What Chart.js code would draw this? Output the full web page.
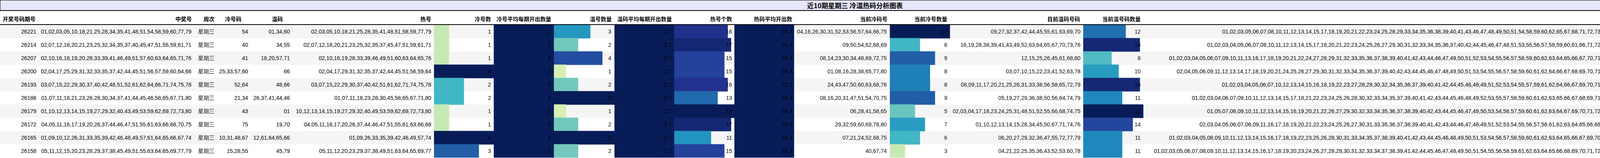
<!DOCTYPE html>
<html><head><meta charset="utf-8">
<script src="https://cdn.jsdelivr.net/npm/chart.js@4/dist/chart.umd.min.js"></script>
<style>
html,body{margin:0;padding:0;background:#fff;}
#wrap{position:relative;width:4377px;height:405px;overflow:hidden;font-family:"Liberation Sans",Arial,sans-serif;}
.t{position:absolute;white-space:nowrap;font-size:14px;color:#000;z-index:3;line-height:34px;height:34px;}
.h{position:absolute;white-space:nowrap;font-size:14px;font-weight:bold;font-family:"Noto Sans CJK SC","Liberation Sans",sans-serif;z-index:3;line-height:34px;top:31px;}
.stripe{position:absolute;left:0;width:4377px;height:34px;z-index:0;}
canvas{position:absolute;z-index:2;}
#title{position:absolute;left:0;top:0;width:4375px;height:25px;background:#e6e6fa;border:1px solid #000;border-bottom:2px solid #000;z-index:1;text-align:center;font:bold 17px "Noto Sans CJK SC",sans-serif;line-height:25px;}
#hline{position:absolute;left:0;top:62px;width:4377px;height:2px;background:#000;z-index:4;}
</style></head><body><div id="wrap"><div id="title">近10期星期三 冷温热码分析图表</div><div id="hline"></div></div>
<script>
const issues=["26221","26214","26207","26200","26193","26186","26179","26172","26165","26158"];
const winning=["01,02,03,05,10,18,21,25,28,34,35,41,48,51,54,58,59,60,77,79","02,07,12,18,20,21,23,25,32,34,35,37,40,45,47,51,55,59,61,71","02,10,16,18,19,20,28,33,39,41,46,49,51,57,60,63,64,65,71,76","02,04,17,25,29,31,32,33,35,37,42,44,45,51,56,57,59,60,64,66","03,07,15,22,29,30,37,40,42,48,51,52,61,62,64,66,71,74,75,78","01,07,11,18,21,23,26,28,30,34,37,41,44,45,46,58,65,67,71,80","01,10,12,13,14,15,19,27,29,32,40,43,49,53,59,62,69,72,73,80","04,05,11,16,17,19,20,26,37,44,46,47,51,55,61,63,66,68,70,75","01,09,10,12,26,31,33,35,39,42,46,48,49,57,61,64,65,66,67,74","05,11,12,15,20,23,28,29,37,38,45,49,51,55,63,64,65,69,77,79"];
const weekday=["星期三","星期三","星期三","星期三","星期三","星期三","星期三","星期三","星期三","星期三"];
const coldCodes=["54","40","41","25,33,57,60","52,64","21,34","43","75","10,31,48,67","15,28,55"];
const warmCodes=["01,34,60","34,55","18,20,57,71","66","48,66","26,37,41,44,46","01","19,70","12,61,64,65,66","45,79"];
const hotCodes=["02,03,05,10,18,21,25,28,35,41,48,51,58,59,77,79","02,07,12,18,20,21,23,25,32,35,37,45,47,51,59,61,71","02,10,16,19,28,33,39,46,49,51,60,63,64,65,76","02,04,17,29,31,32,35,37,42,44,45,51,56,59,64","03,07,15,22,29,30,37,40,42,51,61,62,71,74,75,78","01,07,11,18,23,28,30,45,58,65,67,71,80","10,12,13,14,15,19,27,29,32,40,49,53,59,62,69,72,73,80","04,05,11,16,17,20,26,37,44,46,47,51,55,61,63,66,68","01,09,26,33,35,39,42,46,49,57,74","05,11,12,20,23,29,37,38,49,51,63,64,65,69,77"];
const coldCount=[1,1,1,4,2,2,1,1,4,3];
const coldAvg=[2,2,2,2,2,2,2,2,2,2];
const warmCount=[3,2,4,1,2,5,1,2,5,2];
const warmAvg=[2.7,2.7,2.7,2.7,2.7,2.7,2.7,2.7,2.7,2.7];
const hotCount=[16,17,15,15,16,13,18,17,11,15];
const hotAvg=[15.3,15.3,15.3,15.3,15.3,15.3,15.3,15.3,15.3,15.3];
const curCold=["04,16,26,30,31,52,53,56,57,64,66,75","09,50,54,62,68,69","08,14,23,30,34,48,69,72,75","01,08,16,28,38,65,77,80","24,43,47,50,60,63,68,76","08,16,20,31,47,51,54,70,75","06,28,41,58,65","29,32,59,60,69,78,80","07,21,24,52,68,75","40,67,74"];
const curColdCount=[12,6,9,8,8,9,5,7,6,3];
const curWarm=["09,27,32,37,42,44,45,55,61,63,69,70","16,19,28,38,39,41,43,49,52,63,64,65,67,70,73,76","12,15,25,26,45,61,68,80","03,07,10,15,22,23,41,52,63,78","08,09,11,17,20,21,25,26,31,33,38,56,58,65,72,79","05,19,27,29,36,38,50,56,64,74,79","02,03,04,17,18,23,24,25,31,48,51,52,55,66,68,74,75","01,10,12,13,14,15,28,34,45,50,67,71,74,76","06,20,27,29,32,36,47,55,72,77,79","04,21,22,25,35,36,43,52,53,60,78"];
const curWarmCount=[12,16,8,10,16,11,17,14,11,11];
const curHot=["01,02,03,05,06,07,08,10,11,12,13,14,15,17,18,19,20,21,22,23,24,25,28,29,33,34,35,36,38,39,40,41,43,46,47,48,49,50,51,54,58,59,60,62,65,67,68,71,72,73,74,76,77,78,79,80","01,02,03,04,05,06,07,08,10,11,12,13,14,15,17,18,20,21,22,23,24,25,26,27,29,30,31,32,33,34,35,36,37,40,42,44,45,46,47,48,51,53,55,56,57,58,59,60,61,66,71,72,74,75,77,78,79,80","01,02,03,04,05,06,07,09,10,11,13,16,17,18,19,20,21,22,24,27,28,29,31,32,33,35,36,37,38,39,40,41,42,43,44,46,47,49,50,51,52,53,54,55,56,57,58,59,60,62,63,64,65,66,67,70,71,73,74,76,77,78,79","02,04,05,06,09,11,12,13,14,17,18,19,20,21,24,25,26,27,29,30,31,32,33,34,35,36,37,39,40,42,43,44,45,46,47,48,49,50,51,53,54,55,56,57,58,59,60,61,62,64,66,67,68,69,70,71,72,73,74,75,76,79","01,02,03,04,05,06,07,10,12,13,14,15,16,18,19,22,23,27,28,29,30,32,34,35,36,37,39,40,41,42,44,45,46,48,49,51,52,53,54,55,57,59,61,62,64,66,67,69,70,71,73,74,75,77,78,80","01,02,03,04,06,07,09,10,11,12,13,14,15,17,18,21,22,23,24,25,26,28,30,32,33,34,35,37,39,40,41,42,43,44,45,46,48,49,52,53,55,57,58,59,60,61,62,63,65,66,67,68,69,71,72,73,76,77,78,80","01,05,07,08,09,10,11,12,13,14,15,16,19,20,21,22,26,27,29,30,32,33,34,35,36,37,38,39,40,42,43,44,45,46,47,49,50,53,54,56,57,59,60,61,62,63,64,67,69,70,71,72,73,76,77,78,79,80","02,03,04,05,06,07,08,09,11,16,17,18,19,20,21,22,23,24,25,26,27,30,31,33,35,36,37,38,39,40,41,42,43,44,46,47,48,49,51,52,53,54,55,56,57,58,61,62,63,64,65,66,68,70,72,73,75,77,79","01,02,03,04,05,08,09,10,11,12,13,14,15,16,17,18,19,22,23,25,26,28,30,31,33,34,35,37,38,39,40,41,42,43,44,45,46,48,49,50,51,53,54,56,57,58,59,60,61,62,63,64,65,66,67,69,70,71,73,74,76,78,80","01,02,03,05,06,07,08,09,10,11,12,13,14,15,16,17,18,19,20,23,24,26,27,28,29,30,31,32,33,34,37,38,39,41,42,44,45,46,47,48,49,50,51,54,55,56,58,59,61,62,63,64,65,66,68,69,70,71,72,73,75,76,77,79,80"];
const curHotCount=[56,58,63,62,56,60,58,59,63,66];
const headers=["开奖号码期号","中奖号","周次","冷号码","温码","热号","冷号数","冷号平均每期开出数量","温号数量","温码平均每期开出数量","热号个数","热码平均开出数","当前冷码号","当前冷号数量","目前温码号码","当前温号码数量","目前热码","目前热号个数"];

// layout (not data)
const cols=[
 {d:issues,hl:7,r:93},
 {d:winning,hr:491,r:490},
 {d:weekday,hr:549,r:549},
 {d:coldCodes,hr:618,r:635},
 {d:warmCodes,hr:724,r:742},
 {d:hotCodes,hr:1104,r:1104},
 {d:coldCount,hr:1257,r:1257,bar:[1111,1264]},
 {d:coldAvg,hr:1411,r:1410,bar:[1264,1418]},
 {d:warmCount,hr:1566,r:1565,bar:[1418,1573]},
 {d:warmAvg,hr:1720,r:1719,bar:[1573,1726]},
 {d:hotCount,hr:1874,r:1874,bar:[1726,1880]},
 {d:hotAvg,hr:2028,r:2028,bar:[1880,2033]},
 {d:curCold,hr:2272,r:2270},
 {d:curColdCount,hr:2425,r:2425,bar:[2278,2432]},
 {d:curWarm,hr:2765,r:2766},
 {d:curWarmCount,hr:2920,r:2920,bar:[2773,2927]},
 {d:curHot,hr:4214,r:4214},
 {d:curHotCount,hr:4370,r:4370,bar:[4222,4377]}
];
const TOP=64,RH=34,W=4377;
const wrap=document.getElementById('wrap');
for(let i=0;i<10;i++){const s=document.createElement('div');s.className='stripe';s.style.top=(TOP+i*RH)+'px';s.style.background=i%2===0?'#f5f5f5':'#fff';wrap.appendChild(s);}
const stops=["#ffffd9","#edf8b1","#c7e9b4","#7fcdbb","#41b6c4","#1d91c0","#225ea8","#253494","#081d58"];
function hex(h){return [1,3,5].map(k=>parseInt(h.substr(k,2),16));}
function ylgnbu(t){t=Math.max(0,Math.min(1,t));const p=t*8,i=Math.min(7,Math.floor(p)),f=p-i;const a=hex(stops[i]),b=hex(stops[i+1]);return 'rgb('+a.map((v,k)=>Math.round(v+(b[k]-v)*f)).join(',')+')';}
function place(cls,text,right,top,left){const e=document.createElement('div');e.className=cls;e.textContent=text;e.style.top=top+'px';if(left!=null)e.style.left=left+'px';else e.style.right=(W-right)+'px';wrap.appendChild(e);}
cols.forEach((c,ci)=>{
 const h=headers[ci];
 if(c.hl!=null)place('h',h,null,31,c.hl);else place('h',h,c.hr,31);
 c.d.forEach((v,i)=>place('t',String(v),c.r,TOP+i*RH));
 if(c.bar){
  const cv=document.createElement('canvas');const w=c.bar[1]-c.bar[0];
  cv.width=w;cv.height=RH*10;cv.style.left=c.bar[0]+'px';cv.style.top=TOP+'px';cv.style.width=w+'px';cv.style.height=(RH*10)+'px';
  wrap.appendChild(cv);
  const mx=Math.max(...c.d);
  new Chart(cv,{type:'bar',data:{labels:c.d.map((_,i)=>String(i)),datasets:[{data:c.d,backgroundColor:c.d.map(v=>ylgnbu(v/mx)),borderWidth:0,borderSkipped:false,barPercentage:1,categoryPercentage:1,barThickness:RH+0.5}]},
   options:{indexAxis:'y',responsive:false,animation:false,devicePixelRatio:1,layout:{padding:0},
    plugins:{legend:{display:false},tooltip:{enabled:false}},
    scales:{x:{display:false,min:0,max:mx,grace:0},y:{type:'category',display:false,offset:true}}}});
 }
});
</script></body></html>
